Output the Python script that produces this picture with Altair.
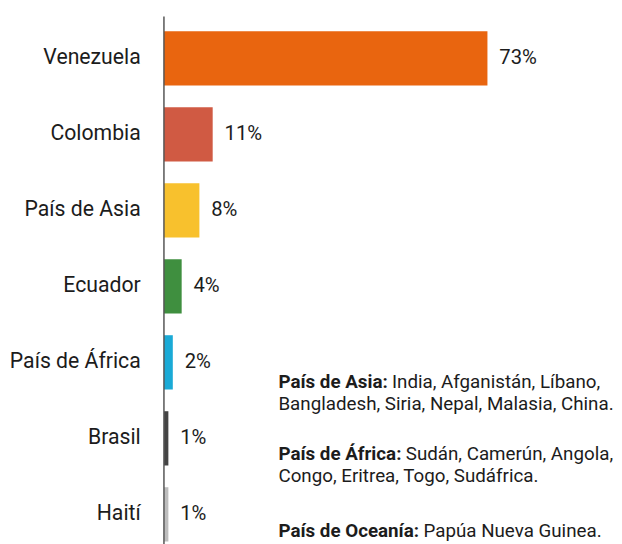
import altair as alt
import pandas as pd

categories = ["Venezuela", "Colombia", "País de Asia", "Ecuador", "País de África", "Brasil", "Haití"]
values = [73, 11, 8, 4, 2, 1, 1]
colors = ["#E9650F", "#D05A43", "#F8C12D", "#3F8F3F", "#1AAAD6", "#444444", "#BDBDBD"]

note_bold = ["País de Asia:", "", "País de África:", "", "País de Oceanía:"]
note_text = ["India, Afganistán, Líbano,", "Bangladesh, Siria, Nepal, Malasia, China.",
             "Sudán, Camerún, Angola,", "Congo, Eritrea, Togo, Sudáfrica.", "Papúa Nueva Guinea."]

# layout (pixels within plot area) for the notes
note_y = [376, 399, 449, 472, 527]
note_x_bold = 116
note_x_text = [231, 116, 245, 116, 263]

FONT = "Roboto"

df = pd.DataFrame({"cat": categories, "val": values,
                   "label": [f"{v}%" for v in values]})

y_scale = alt.Scale(range=[4, 543], paddingInner=0.2857, paddingOuter=0.14285)
x_scale = alt.Scale(domain=[0, 100])
y_axis = alt.Axis(domain=False, ticks=False, tickSize=0, labelPadding=24,
                  labelFontSize=21.5, labelFont=FONT, labelColor="#1c1c1c",
                  labelLimit=300, title=None)

bars = alt.Chart(df).mark_bar().encode(
    x=alt.X("val:Q", scale=x_scale, axis=None),
    y=alt.Y("cat:N", sort=categories, title=None, scale=y_scale, axis=y_axis),
    color=alt.Color("cat:N", scale=alt.Scale(domain=categories, range=colors), legend=None),
)

labels = alt.Chart(df).mark_text(align="left", baseline="middle", dx=12,
                                 fontSize=20.5, font=FONT, color="#1c1c1c").encode(
    x=alt.X("val:Q", scale=x_scale, axis=None),
    y=alt.Y("cat:N", sort=categories, title=None, scale=y_scale, axis=y_axis),
    text="label:N")

axis_line = alt.Chart(pd.DataFrame({"a": [0]})).mark_rule(color="#555555", strokeWidth=1.5).encode(
    x=alt.value(0), y=alt.value(0), y2=alt.value(560))

notes = pd.DataFrame({"b": note_bold, "t": note_text, "ny": note_y, "nx": note_x_text})

bold_marks = alt.Chart(notes).mark_text(align="left", baseline="alphabetic", fontSize=19,
                                        font=FONT, fontWeight="bold", color="#1c1c1c").encode(
    x=alt.value(note_x_bold), y=alt.Y("ny:Q", scale=None), text="b:N")

text_marks = alt.Chart(notes).mark_text(align="left", baseline="alphabetic", fontSize=19,
                                        font=FONT, color="#1c1c1c").encode(
    x=alt.X("nx:Q", scale=None), y=alt.Y("ny:Q", scale=None), text="t:N")

chart = alt.layer(bars, labels, axis_line, bold_marks, text_marks).properties(
    width=449, height=531,
    autosize=alt.AutoSizeParams(type="none"),
    padding={"left": 158, "top": 5, "right": 7, "bottom": 0},
).configure_view(stroke=None)

chart.save("out.html", embed_options={"renderer": "svg", "actions": False})
